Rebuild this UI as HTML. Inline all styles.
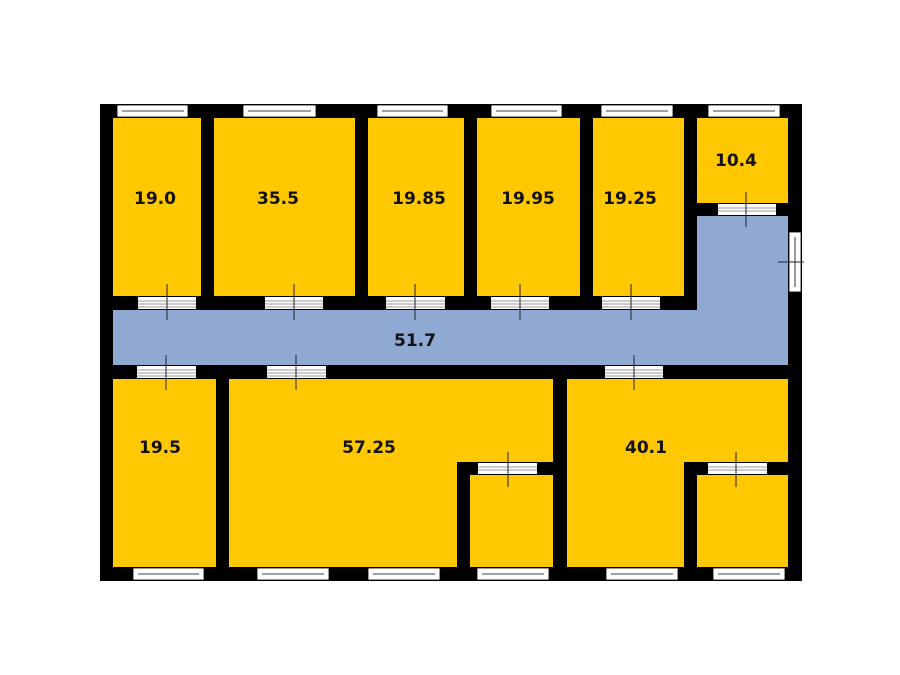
<!DOCTYPE html>
<html><head><style>html,body{margin:0;padding:0;background:#fff}svg{display:block}</style></head><body>
<svg width="900" height="675" xmlns="http://www.w3.org/2000/svg">
<rect width="900" height="675" fill="#fff"/>
<g fill="#FFC800">
<rect x="113" y="118" width="88" height="178"/>
<rect x="214" y="118" width="141" height="178"/>
<rect x="368" y="118" width="96" height="178"/>
<rect x="477" y="118" width="103" height="178"/>
<rect x="593" y="118" width="91" height="178"/>
<rect x="697" y="118" width="92" height="85"/>
<rect x="113" y="379" width="103" height="189"/>
<rect x="229" y="379" width="324" height="189"/>
<rect x="567" y="379" width="222" height="189"/>
</g>
<g fill="#8FA9D3">
<rect x="113" y="310" width="676" height="55"/>
<rect x="697" y="216" width="92" height="100"/>
</g>
<g fill="#000">
<rect x="100" y="104" width="13" height="477"/>
<rect x="788" y="104" width="14" height="477"/>
<rect x="100" y="104" width="702" height="14"/>
<rect x="100" y="567" width="702" height="14"/>
<rect x="201" y="104" width="13" height="206"/>
<rect x="355" y="104" width="13" height="206"/>
<rect x="464" y="104" width="13" height="206"/>
<rect x="580" y="104" width="13" height="206"/>
<rect x="684" y="104" width="13" height="206"/>
<rect x="100" y="296" width="597" height="14"/>
<rect x="684" y="203" width="118" height="13"/>
<rect x="100" y="365" width="702" height="14"/>
<rect x="216" y="365" width="13" height="216"/>
<rect x="553" y="365" width="14" height="216"/>
<rect x="457" y="462" width="13" height="119"/>
<rect x="457" y="462" width="110" height="13"/>
<rect x="684" y="462" width="13" height="119"/>
<rect x="684" y="462" width="118" height="13"/>
</g>
<g fill="#fff" stroke="#000" stroke-width="0.8">
<rect x="117" y="105" width="71" height="12"/>
<rect x="243" y="105" width="73" height="12"/>
<rect x="377" y="105" width="71" height="12"/>
<rect x="491" y="105" width="71" height="12"/>
<rect x="601" y="105" width="72" height="12"/>
<rect x="708" y="105" width="72" height="12"/>
<rect x="133" y="568" width="71" height="12"/>
<rect x="257" y="568" width="72" height="12"/>
<rect x="368" y="568" width="72" height="12"/>
<rect x="477" y="568" width="72" height="12"/>
<rect x="606" y="568" width="72" height="12"/>
<rect x="713" y="568" width="72" height="12"/>
<rect x="789" y="232" width="12" height="60"/>
</g>
<g stroke="#000" stroke-width="0.8">
<line x1="122" y1="111" x2="184" y2="111"/><line x1="248" y1="111" x2="311" y2="111"/>
<line x1="382" y1="111" x2="443" y2="111"/><line x1="496" y1="111" x2="557" y2="111"/>
<line x1="606" y1="111" x2="668" y2="111"/><line x1="713" y1="111" x2="775" y2="111"/>
<line x1="138" y1="574" x2="199" y2="574"/><line x1="262" y1="574" x2="324" y2="574"/>
<line x1="373" y1="574" x2="435" y2="574"/><line x1="482" y1="574" x2="544" y2="574"/>
<line x1="611" y1="574" x2="673" y2="574"/><line x1="718" y1="574" x2="780" y2="574"/>
<line x1="795" y1="237" x2="795" y2="287"/>
</g>
<g fill="#fff">
<rect x="138" y="297" width="58" height="12"/><rect x="265" y="297" width="58" height="12"/>
<rect x="386" y="297" width="59" height="12"/><rect x="491" y="297" width="58" height="12"/>
<rect x="602" y="297" width="58" height="12"/><rect x="718" y="204" width="58" height="11"/>
<rect x="137" y="366" width="59" height="12"/><rect x="267" y="366" width="59" height="12"/>
<rect x="605" y="366" width="58" height="12"/><rect x="478" y="463" width="59" height="11"/>
<rect x="708" y="463" width="59" height="11"/>
</g>
<g stroke="#777" stroke-width="0.7">
<path d="M138 301H196M138 304H196M138 307H196M265 301H323M265 304H323M265 307H323M386 301H445M386 304H445M386 307H445M491 301H549M491 304H549M491 307H549M602 301H660M602 304H660M602 307H660M718 208H776M718 211H776M137 370H196M137 373H196M137 376H196M267 370H326M267 373H326M267 376H326M605 370H663M605 373H663M605 376H663M478 467H537M478 470H537M708 467H767M708 470H767"/>
</g>
<g stroke="#223" stroke-width="1">
<line x1="167" y1="284" x2="167" y2="320"/><line x1="294" y1="284" x2="294" y2="320"/>
<line x1="415" y1="284" x2="415" y2="320"/><line x1="520" y1="284" x2="520" y2="320"/>
<line x1="631" y1="284" x2="631" y2="320"/><line x1="746" y1="192" x2="746" y2="227"/>
<line x1="778" y1="262" x2="804" y2="262"/>
<line x1="166" y1="355" x2="166" y2="390"/><line x1="296" y1="355" x2="296" y2="390"/>
<line x1="634" y1="355" x2="634" y2="390"/><line x1="508" y1="452" x2="508" y2="487"/>
<line x1="736" y1="452" x2="736" y2="487"/>
</g>
<g font-family="DejaVu Sans, Liberation Sans, sans-serif" font-weight="bold" font-size="17" fill="#111" text-anchor="middle">
<text x="155" y="204">19.0</text><text x="278" y="204">35.5</text>
<text x="419" y="204">19.85</text><text x="528" y="204">19.95</text>
<text x="630" y="204">19.25</text><text x="736" y="166">10.4</text>
<text x="415" y="346">51.7</text><text x="160" y="453">19.5</text>
<text x="369" y="453">57.25</text><text x="646" y="453">40.1</text>
</g>
</svg>
</body></html>
